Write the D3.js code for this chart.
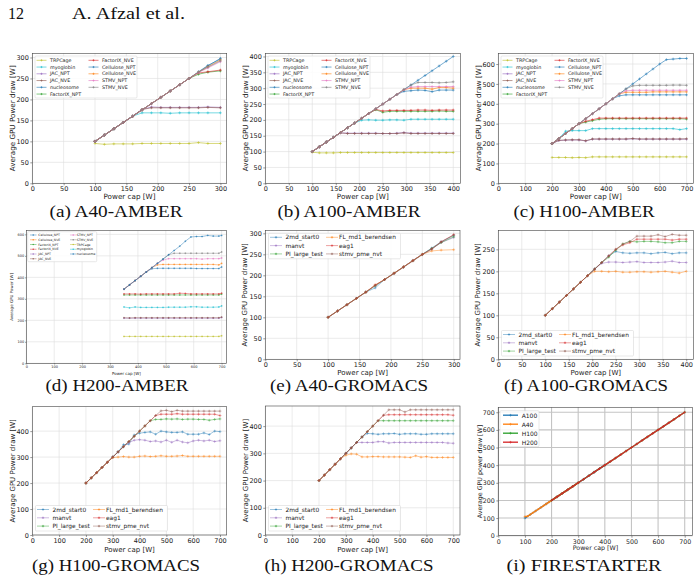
<!DOCTYPE html>
<html><head><meta charset="utf-8">
<script src="https://cdn.jsdelivr.net/npm/d3@7"></script>
<style>body{margin:0;background:#fff}</style></head>
<body><svg id="c" width="700" height="582"></svg>
<script>
// ---------- data ----------
const capsA40 = [100,115,130,145,160,175,190,205,220,235,250,265,280,300];
const capsA100 = [100,115,130,145,160,175,190,205,220,235,250,265,280,295,310,325,340,355,370,385,400];
const capsH100Amber = [200,225,250,275,300,325,350,375,400,425,450,475,500,525,550,575,600,625,650,675,700];
const capsH200Amber = [350,370,390,410,430,450,470,490,510,530,550,570,590,610,630,650,670,690,700];
const capsH100Gro = [200,220,240,260,280,300,320,340,360,380,400,420,440,460,480,500,520,540,560,580,600,620,640,660,680,700];
const capsH200Gro = [200,220,240,260,280,300,320,340,360,380,400,420,440,460,480,500,520,540,560,580,600,620,640,660,680,700];
const capsFsA100 = [100,120,140,160,180,200,220,240,260,280,300,320,340,360,380,400];
const capsFsA40 = [100,110,120,130,140,150,160,170,180,190,200,210,220,230,240,250,260,270,280,290,300];
const capsFsH = [200,220,240,260,280,300,320,340,360,380,400,420,440,460,480,500,520,540,560,580,600,620,640,660,680,700];

const a40Amber = [
  {name:"TRPCage", v:[95,93,94,94,94,95,95,95,95,95,95,97,95,95]},
  {name:"myoglobin", v:[100,115,130,145,160,168,168,168,167,168,168,168,168,168]},
  {name:"JAC_NPT", v:[100,115,130,145,160,176,182,181,181,181,181,181,182,181]},
  {name:"JAC_NVE", v:[100,115,130,145,160,176,180,180,180,180,180,180,181,180]},
  {name:"nucleosome", v:[100,115,130,145,160,175,190,205,220,235,250,265,280,298]},
  {name:"FactorIX_NPT", v:[100,115,130,145,160,175,190,205,220,235,250,260,265,268]},
  {name:"FactorIX_NVE", v:[100,115,130,145,160,175,190,205,220,235,250,263,266,270]},
  {name:"Cellulose_NPT", v:[100,115,130,145,160,175,190,205,220,235,250,266,281,296]},
  {name:"Cellulose_NVE", v:[100,115,130,145,160,175,190,205,220,235,250,265,278,294]},
  {name:"STMV_NPT", v:[100,115,130,145,160,175,190,205,220,235,250,264,275,290]},
  {name:"STMV_NVE", v:[100,115,130,145,160,175,190,205,220,235,250,265,277,292]}
];
const a100Amber = [
  {name:"TRPCage", v:[98,96,96,96,97,97,97,97,97,97,97,97,97,97,97,97,97,97,97,97,97]},
  {name:"myoglobin", v:[100,115,130,145,160,175,190,199,200,199,199,200,200,199,202,202,202,202,202,202,202]},
  {name:"JAC_NPT", v:[100,115,130,145,159,158,158,158,158,158,157,157,158,160,158,158,158,158,158,158,158]},
  {name:"JAC_NVE", v:[100,115,130,145,159,157,157,157,157,157,157,157,157,159,157,157,157,157,157,157,157]},
  {name:"nucleosome", v:[100,115,130,145,160,175,190,205,220,235,250,265,280,295,310,325,340,355,370,385,400]},
  {name:"FactorIX_NPT", v:[100,115,130,145,160,175,190,205,220,232,224,227,227,227,227,227,227,227,228,227,227]},
  {name:"FactorIX_NVE", v:[100,115,130,145,160,175,190,205,220,233,228,230,230,230,230,231,231,230,231,231,231]},
  {name:"Cellulose_NPT", v:[100,115,130,145,160,175,190,205,220,235,250,265,280,290,292,294,293,289,294,294,294]},
  {name:"Cellulose_NVE", v:[100,115,130,145,160,175,190,205,220,235,250,265,280,295,300,300,300,297,302,302,300]},
  {name:"STMV_NPT", v:[100,115,130,145,160,175,190,205,220,235,250,265,280,295,303,305,305,305,305,305,305]},
  {name:"STMV_NVE", v:[100,115,130,145,160,175,190,205,220,235,250,265,280,296,310,318,318,318,317,318,320]}
];
const h100Amber = [
  {name:"TRPCage", v:[130,130,130,129,130,129,133,133,133,133,133,133,133,133,133,133,133,133,133,133,133]},
  {name:"myoglobin", v:[200,225,262,265,265,265,275,275,275,275,275,275,275,275,275,275,275,275,275,270,275]},
  {name:"JAC_NPT", v:[200,215,217,218,218,213,222,222,222,222,222,222,224,222,222,222,222,222,222,222,222]},
  {name:"JAC_NVE", v:[200,216,218,219,219,214,223,223,223,223,223,223,225,223,223,223,223,223,223,223,224]},
  {name:"nucleosome", v:[200,225,250,275,300,325,350,375,400,425,450,475,500,525,550,575,600,622,625,628,628]},
  {name:"FactorIX_NPT", v:[200,225,250,275,300,308,315,322,325,325,325,325,325,325,325,325,325,325,325,325,323]},
  {name:"FactorIX_NVE", v:[200,225,250,275,300,312,320,328,328,328,328,328,328,328,328,328,328,328,328,328,328]},
  {name:"Cellulose_NPT", v:[200,225,250,275,300,325,350,375,400,425,440,445,445,445,445,445,445,445,445,445,445]},
  {name:"Cellulose_NVE", v:[200,225,250,275,300,325,350,375,400,425,450,458,458,458,458,460,460,460,460,460,460]},
  {name:"STMV_NPT", v:[200,225,250,275,300,325,350,375,400,425,450,465,468,468,468,468,468,468,468,468,468]},
  {name:"STMV_NVE", v:[200,225,250,275,300,325,350,375,400,425,450,475,490,493,493,493,493,493,494,494,493]}
];
const h200Amber = [
  {name:"Cellulose_NPT", v:[345,365,385,405,425,440,442,442,442,442,442,442,442,441,441,441,441,441,448]},
  {name:"Cellulose_NVE", v:[345,365,385,405,425,445,458,460,460,460,460,460,460,460,460,460,460,458,465]},
  {name:"FactorIX_NPT", v:[318,318,318,318,318,318,318,318,318,318,318,318,318,318,318,318,318,318,322]},
  {name:"FactorIX_NVE", v:[323,323,323,322,323,323,323,323,323,323,326,325,323,323,323,323,323,323,326]},
  {name:"JAC_NPT", v:[210,210,210,210,210,210,210,210,210,210,210,210,210,210,210,210,210,210,213]},
  {name:"JAC_NVE", v:[212,211,212,212,212,212,212,212,212,212,212,212,212,212,212,212,212,212,215]},
  {name:"STMV_NPT", v:[345,365,385,405,425,445,465,480,487,487,487,487,487,487,485,487,487,487,490]},
  {name:"STMV_NVE", v:[345,365,385,405,425,445,465,485,505,512,512,512,512,512,512,512,512,512,518]},
  {name:"TRPCage", v:[125,125,125,125,125,125,125,125,125,125,125,125,125,125,125,125,125,125,128]},
  {name:"myoglobin", v:[262,258,262,260,260,260,260,260,261,261,261,261,263,263,261,261,261,262,267]},
  {name:"nucleosome", v:[345,365,385,405,425,445,465,485,505,525,545,568,588,590,590,595,592,592,595]}
];
const a40Gro = [
  {name:"2md_start0", v:[100,115,130,145,160,170,190,205,220,235,250,265,280,295]},
  {name:"manvt", v:[100,115,130,145,160,175,190,205,220,236,250,263,278,290]},
  {name:"PI_large_test", v:[100,115,130,145,160,175,190,205,220,235,250,264,278,292]},
  {name:"FL_md1_berendsen", v:[100,115,130,145,160,177,190,205,220,235,250,258,260,261]},
  {name:"eag1", v:[100,115,130,145,160,177,190,205,220,235,250,263,280,297]},
  {name:"stmv_pme_nvt", v:[100,115,130,145,160,176,190,204,219,234,249,262,279,296]}
];
const a100Gro = [
  {name:"2md_start0", v:[100,115,130,145,160,175,190,205,220,235,245,242,241,242,242,240,242,243,240,242,242]},
  {name:"manvt", v:[100,115,130,145,160,175,190,205,218,221,221,220,221,222,220,220,220,221,223,220,220]},
  {name:"PI_large_test", v:[100,115,130,145,160,175,190,205,220,232,248,262,268,267,268,268,267,265,265,268,268]},
  {name:"FL_md1_berendsen", v:[100,115,130,145,160,175,190,200,200,199,200,198,198,199,199,198,199,200,198,196,200]},
  {name:"eag1", v:[100,115,130,145,160,175,190,205,220,235,250,260,265,273,273,273,273,273,271,273,273]},
  {name:"stmv_pme_nvt", v:[100,115,130,145,160,175,190,205,220,235,250,262,268,280,280,280,283,279,284,282,282]}
];
const h100Gro = [
  {name:"2md_start0", v:[200,220,240,260,280,300,320,348,350,385,392,395,397,388,400,397,395,395,397,388,388,388,393,387,400,398]},
  {name:"manvt", v:[200,220,240,260,280,300,320,340,355,365,367,365,360,362,358,365,357,365,358,355,362,365,362,365,360,363]},
  {name:"PI_large_test", v:[200,220,240,260,280,300,320,340,360,380,400,420,440,445,445,447,446,447,445,446,446,445,445,442,445,447]},
  {name:"FL_md1_berendsen", v:[200,220,240,260,280,298,300,302,300,300,303,304,302,303,305,303,303,304,306,303,303,303,303,303,303,303]},
  {name:"eag1", v:[200,220,240,260,280,300,320,340,360,380,400,420,440,460,465,465,465,467,465,465,465,465,465,465,465,460]},
  {name:"stmv_pme_nvt", v:[200,220,240,260,280,300,320,340,360,380,400,420,440,460,478,480,475,480,477,477,477,477,477,477,477,477]}
];
const h200Gro = [
  {name:"2md_start0", v:[200,220,240,260,280,300,320,340,360,373,372,370,372,372,373,370,372,372,372,370,370,372,372,372,372,372]},
  {name:"manvt", v:[200,220,240,260,280,300,320,340,340,340,340,343,343,338,340,340,340,340,340,340,340,340,340,340,338,337]},
  {name:"PI_large_test", v:[200,220,240,260,280,300,320,340,360,380,400,420,420,420,420,420,420,420,420,420,420,420,420,420,420,420]},
  {name:"FL_md1_berendsen", v:[200,220,240,260,280,293,298,297,287,287,288,288,287,287,287,287,286,285,291,286,288,285,285,285,285,285]},
  {name:"eag1", v:[200,220,240,260,280,300,320,340,360,380,400,420,440,442,442,442,442,442,442,442,442,442,442,442,442,440]},
  {name:"stmv_pme_nvt", v:[200,220,240,260,280,300,320,340,360,380,400,420,440,460,460,460,452,460,460,460,460,460,460,460,460,460]}
];
const fsA100 = [100,120,140,160,180,200,220,240,260,280,300,320,340,360,380,400];
const fsA40 = [108,110,120,130,140,150,160,170,180,190,200,210,220,230,240,250,260,270,280,290,300];
const fsH100 = [200,220,240,260,280,300,320,340,360,380,400,420,440,460,480,500,520,540,560,580,600,620,640,660,680,700];
const fsH200 = [200,220,240,260,280,300,320,340,360,380,400,420,440,460,480,500,520,540,560,580,600,620,640,660,680,700];

const ticks50to300 = [0,50,100,150,200,250,300];
const ticks50to400 = [0,50,100,150,200,250,300,350,400];
const ticks50to250 = [0,50,100,150,200,250];
const ticks100to700 = [0,100,200,300,400,500,600,700];
const ticks100to600 = [0,100,200,300,400,500,600];
const ticks100to400 = [0,100,200,300,400];

// ---------- styles ----------
const colorOf = {
  TRPCage:"#bcbd22", myoglobin:"#17becf", JAC_NPT:"#9467bd", JAC_NVE:"#8c564b",
  nucleosome:"#1f77b4", FactorIX_NPT:"#2ca02c", FactorIX_NVE:"#d62728",
  Cellulose_NPT:"#1f77b4", Cellulose_NVE:"#ff7f0e", STMV_NPT:"#e377c2", STMV_NVE:"#7f7f7f",
  "2md_start0":"#1f77b4", manvt:"#9467bd", PI_large_test:"#2ca02c",
  FL_md1_berendsen:"#ff7f0e", eag1:"#d62728", stmv_pme_nvt:"#8c564b",
  A100:"#1f77b4", A40:"#ff7f0e", H100:"#2ca02c", H200:"#d62728"
};
const SANS = "DejaVu Sans";
const SERIF = "Liberation Serif";
const svg = d3.select("#c");

function panel(cfg, series, leg) {
  const g = svg.append("g");
  const x = d3.scaleLinear().domain([0, cfg.xd]).range(cfg.px);
  const y = d3.scaleLinear().domain([0, cfg.yd]).range(cfg.py);
  const gc = cfg.gridColor || "#dedede", gw = cfg.gridW || 0.6;
  g.append("rect").attr("x",cfg.px[0]).attr("y",cfg.py[1]).attr("width",cfg.px[1]-cfg.px[0])
    .attr("height",cfg.py[0]-cfg.py[1]).attr("fill","#fff");
  g.append("g").selectAll("line").data(cfg.xt).join("line")
    .attr("x1",d=>x(d)).attr("x2",d=>x(d)).attr("y1",cfg.py[0]).attr("y2",cfg.py[1])
    .attr("stroke",gc).attr("stroke-width",gw);
  g.append("g").selectAll("line").data(cfg.yt).join("line")
    .attr("y1",d=>y(d)).attr("y2",d=>y(d)).attr("x1",cfg.px[0]).attr("x2",cfg.px[1])
    .attr("stroke",gc).attr("stroke-width",gw);
  const tl = cfg.tl || 2, tp = cfg.tp || 1.5;
  const xa = g.append("g").attr("transform",`translate(0,${cfg.py[0]})`)
    .call(d3.axisBottom(x).tickValues(cfg.xt).tickSize(tl).tickPadding(tp).tickSizeOuter(0));
  const ya = g.append("g").attr("transform",`translate(${cfg.px[0]},0)`)
    .call(d3.axisLeft(y).tickValues(cfg.yt).tickSize(tl).tickPadding(tp).tickSizeOuter(0));
  [xa, ya].forEach(a => {
    a.select(".domain").remove();
    a.selectAll("line").attr("stroke","#333").attr("stroke-width",0.5);
    a.selectAll("text").attr("font-size",cfg.tf).attr("font-family",SANS).attr("fill","#222");
  });
  // series
  const lw = cfg.lw || 0.8, ms = cfg.ms || 1.4;
  series.forEach(s => {
    const pts = s.caps.map((c,i)=>[c, s.v[i]]);
    const col = colorOf[s.name];
    g.append("path").datum(pts)
      .attr("d", d3.line().x(d=>x(d[0])).y(d=>y(d[1])))
      .attr("fill","none").attr("stroke",col).attr("stroke-width",lw).attr("stroke-opacity",cfg.op);
    g.append("g").selectAll("path").data(pts).join("path")
      .attr("d", d=>`M${x(d[0])-ms},${y(d[1])}h${2*ms}M${x(d[0])},${y(d[1])-ms}v${2*ms}`)
      .attr("stroke",col).attr("stroke-width",0.55).attr("stroke-opacity",Math.min(1,cfg.op+0.2));
  });
  // frame
  g.append("rect").attr("x",cfg.px[0]).attr("y",cfg.py[1]).attr("width",cfg.px[1]-cfg.px[0])
    .attr("height",cfg.py[0]-cfg.py[1]).attr("fill","none").attr("stroke","#444").attr("stroke-width",0.6);
  // axis labels
  g.append("text").attr("x",(cfg.px[0]+cfg.px[1])/2).attr("y",cfg.py[0]+cfg.xlb)
    .attr("text-anchor","middle").attr("font-family",SANS).attr("font-size",cfg.lf).attr("fill","#222")
    .text("Power cap [W]");
  g.append("text").attr("transform",`translate(${cfg.px[0]+cfg.ylx},${(cfg.py[0]+cfg.py[1])/2}) rotate(-90)`)
    .attr("text-anchor","middle").attr("dominant-baseline","central").attr("font-family",SANS)
    .attr("font-size",cfg.lf).attr("fill","#222").text(cfg.ylab);
  // legend
  const lg = g.append("g");
  lg.append("rect").attr("x",leg.bx).attr("y",leg.by).attr("width",leg.bw).attr("height",leg.bh)
    .attr("rx",1).attr("fill","#fff").attr("fill-opacity",0.85).attr("stroke","#d0d0d0").attr("stroke-width",0.5);
  series.forEach((s,i) => {
    const c = Math.floor(i / leg.rows), r = i % leg.rows;
    const hx = leg.cols[c], ry = leg.r0 + r*leg.rs;
    const col = colorOf[s.name];
    lg.append("line").attr("x1",hx).attr("x2",hx+leg.hw).attr("y1",ry).attr("y2",ry)
      .attr("stroke",col).attr("stroke-width",lw).attr("stroke-opacity",cfg.op);
    const mx = hx + leg.hw/2, m = leg.ms || ms;
    lg.append("path").attr("d",`M${mx-m},${ry}h${2*m}M${mx},${ry-m}v${2*m}`)
      .attr("stroke",col).attr("stroke-width",0.55);
    lg.append("text").attr("x",leg.tx[c]).attr("y",ry).attr("dominant-baseline","central")
      .attr("font-family",SANS).attr("font-size",leg.fs).attr("fill","#222").text(s.name);
  });
  // caption
  svg.append("text").attr("x",cfg.cx).attr("y",cfg.cy).attr("text-anchor","middle")
    .attr("font-family",SERIF).attr("font-size",17).attr("fill","#111")
    .attr("textLength",cfg.cl).attr("lengthAdjust","spacingAndGlyphs").text(cfg.cap);
}
const withCaps = (arr, caps) => arr.map(s => ({name:s.name, v:s.v, caps}));

// header
svg.append("text").attr("x",8).attr("y",19).attr("font-family",SERIF).attr("font-size",16)
  .attr("textLength",16).attr("lengthAdjust","spacingAndGlyphs").attr("fill","#111").text("12");
svg.append("text").attr("x",72).attr("y",19).attr("font-family",SERIF).attr("font-size",16)
  .attr("textLength",113).attr("lengthAdjust","spacingAndGlyphs").attr("fill","#111").text("A. Afzal et al.");

const AMBER_Y = "Average GPU Power draw [W]";
const legAmber = (dx) => ({bx:35+dx, by:56, bw:102, bh:42, rows:6, cols:[36.5+dx, 88.5+dx], tx:[50+dx,102+dx], hw:10, r0:60.3, rs:6.75, fs:4.8, ms:1.1});
const legGroTop = (dx, top) => ({bx:35.5+dx, by:top, bw:132, bh:25.5, rows:3, cols:[37+dx, 93+dx], tx:[52.5+dx,106+dx], hw:12, r0:top+4, rs:8.3, fs:5.9, ms:1.2});

panel({px:[32.3,226.7], py:[183.3,53.3], xd:310, yd:310, xt:ticks50to300, yt:ticks50to300, tf:6.5, lf:7.2,
  ylab:AMBER_Y, ylx:-19.6, xlb:16, op:0.75, cap:"(a) A40-AMBER", cx:116, cy:217, cl:133},
  withCaps(a40Amber, capsA40), legAmber(0));
panel({px:[265.3,460.3], py:[183.3,53.3], xd:415, yd:410, xt:ticks50to400, yt:ticks50to400, tf:6.5, lf:7.2,
  ylab:AMBER_Y, ylx:-19.6, xlb:16, op:0.75, cap:"(b) A100-AMBER", cx:349, cy:217, cl:143},
  withCaps(a100Amber, capsA100), legAmber(233));
panel({px:[498.3,693.3], py:[183.3,53.3], xd:725, yd:654, xt:ticks100to700, yt:ticks100to600, tf:6.5, lf:7.2,
  ylab:AMBER_Y, ylx:-19.6, xlb:16, op:0.75, cap:"(c) H100-AMBER", cx:584, cy:217, cl:141},
  withCaps(h100Amber, capsH100Amber), legAmber(466));
panel({px:[26.3,226.5], py:[363.3,230.5], xd:717.5, yd:618, xt:ticks100to700, yt:ticks100to600, tf:3.5, lf:4.0,
  ylab:"Average GPU Power [W]", ylx:-14.6, xlb:12, op:0.75, lw:0.6, ms:0.9, tl:1.2, tp:1,
  cap:"(d) H200-AMBER", cx:117, cy:391, cl:143},
  withCaps(h200Amber, capsH200Amber),
  {bx:27.7, by:231.7, bw:69, bh:30, rows:6, cols:[30,70], tx:[38.3,76.7], hw:6.5, r0:235, rs:4.75, fs:3.1, ms:0.7});
panel({px:[265.3,460], py:[359.3,230.4], xd:310, yd:307, xt:ticks50to300, yt:ticks50to300, tf:6.5, lf:7.0,
  ylab:AMBER_Y, ylx:-20, xlb:15.5, op:0.55, cap:"(e) A40-GROMACS", cx:349, cy:391, cl:158},
  withCaps(a40Gro, capsA40), legGroTop(233, 233.3));
panel({px:[498.3,693.3], py:[359.3,230.4], xd:415, yd:293, xt:ticks50to400, yt:ticks50to250, tf:6.5, lf:7.0,
  ylab:AMBER_Y, ylx:-20, xlb:15.5, op:0.55, cap:"(f) A100-GROMACS", cx:586, cy:391, cl:164},
  withCaps(a100Gro, capsA100), legGroTop(466, 330.5));
panel({px:[32.3,226.7], py:[535,406.7], xd:725, yd:494, xt:ticks100to700, yt:ticks100to400, tf:6.5, lf:7.0,
  ylab:AMBER_Y, ylx:-19, xlb:16.5, op:0.55, cap:"(g) H100-GROMACS", cx:116, cy:571, cl:168},
  withCaps(h100Gro, capsH100Gro), legGroTop(0, 505.5));
panel({px:[265.3,460], py:[535,406], xd:725, yd:474, xt:ticks100to700, yt:ticks100to400, tf:6.5, lf:7.0,
  ylab:AMBER_Y, ylx:-19, xlb:16.5, op:0.55, cap:"(h) H200-GROMACS", cx:349, cy:571, cl:169},
  withCaps(h200Gro, capsH200Gro), legGroTop(233, 505.5));
panel({px:[498.3,692.7], py:[535.7,407.3], xd:730, yd:728, xt:ticks100to700, yt:ticks100to700, tf:6.3, lf:6.3,
  ylab:"Average GPU power draw [W]", ylx:-19.3, xlb:14.5, op:0.95, lw:1.4, ms:1.3,
  gridColor:"#c4c4c4", gridW:1.1, cap:"(i) FIRESTARTER", cx:584, cy:571, cl:155},
  [{name:"A100", v:fsA100, caps:capsFsA100},{name:"A40", v:fsA40, caps:capsFsA40},
   {name:"H100", v:fsH100, caps:capsFsH},{name:"H200", v:fsH200, caps:capsFsH}],
  {bx:500, by:410.7, bw:39, bh:36, rows:4, cols:[503], tx:[521.7], hw:15, r0:415.2, rs:9, fs:6, ms:1.3});
</script></body></html>
